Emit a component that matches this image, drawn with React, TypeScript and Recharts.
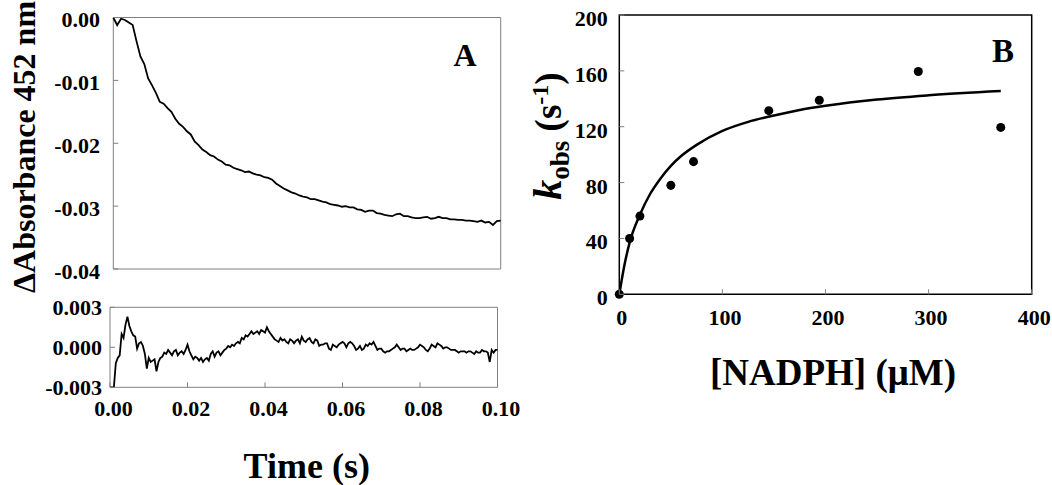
import React from 'react';
import {
  LineChart, ComposedChart, Line, Scatter, XAxis, YAxis, ReferenceArea, Label,
} from 'recharts';

// panel A (top): absorbance trace, one reading per ms
const TRACE_STEP = 0.001;
const traceValues = [
  0.0000, -0.0012, -0.0002, -0.0004, -0.0008, -0.0012, -0.0038, -0.0062, -0.0074, -0.0097,
  -0.0108, -0.0120, -0.0134, -0.0137, -0.0144, -0.0150, -0.0161, -0.0169, -0.0174, -0.0181,
  -0.0186, -0.0197, -0.0203, -0.0210, -0.0214, -0.0219, -0.0221, -0.0226, -0.0229, -0.0234,
  -0.0235, -0.0239, -0.0241, -0.0243, -0.0246, -0.0245, -0.0248, -0.0250, -0.0251, -0.0254,
  -0.0255, -0.0258, -0.0264, -0.0268, -0.0272, -0.0275, -0.0278, -0.0280, -0.0283, -0.0285,
  -0.0286, -0.0289, -0.0289, -0.0291, -0.0293, -0.0294, -0.0297, -0.0298, -0.0299, -0.0301,
  -0.0300, -0.0302, -0.0302, -0.0305, -0.0306, -0.0309, -0.0307, -0.0307, -0.0311, -0.0312,
  -0.0314, -0.0315, -0.0316, -0.0313, -0.0312, -0.0316, -0.0316, -0.0318, -0.0319, -0.0319,
  -0.0318, -0.0317, -0.0320, -0.0319, -0.0317, -0.0319, -0.0319, -0.0321, -0.0321, -0.0322,
  -0.0322, -0.0323, -0.0323, -0.0324, -0.0325, -0.0323, -0.0326, -0.0325, -0.0330, -0.0324,
  -0.0323,
];

// panel A (bottom): residuals, one reading per 0.5 ms
const RESID_STEP = 0.0005;
const residValues = [
  -0.0030, -0.0030, -0.0030, -0.0012, -0.0008, -0.0006, 0.0010, 0.0007, 0.0017, 0.0023,
  0.0016, 0.0012, 0.0009, 0.0008, -0.0001, 0.0003, 0.0004, 0.0001, -0.0005, -0.0016,
  -0.0008, -0.0011, -0.0010, -0.0009, -0.0018, -0.0011, -0.0008, -0.0007, -0.0004, -0.0005,
  -0.0002, -0.0004, -0.0006, -0.0003, -0.0002, -0.0006, -0.0004, -0.0003, -0.0005, -0.0002,
  0.0002, -0.0003, -0.0006, -0.0009, -0.0007, -0.0008, -0.0010, -0.0008, -0.0011, -0.0009,
  -0.0008, -0.0010, -0.0005, -0.0003, -0.0007, -0.0004, -0.0003, -0.0006, -0.0004, -0.0002,
  -0.0001, 0.0001, 0.0000, 0.0002, 0.0001, 0.0003, 0.0004, 0.0003, 0.0007, 0.0006,
  0.0009, 0.0008, 0.0010, 0.0012, 0.0010, 0.0011, 0.0012, 0.0010, 0.0013, 0.0012,
  0.0011, 0.0015, 0.0012, 0.0010, 0.0008, 0.0006, 0.0005, 0.0004, 0.0007, 0.0005,
  0.0006, 0.0004, 0.0003, 0.0006, 0.0005, 0.0003, 0.0005, 0.0006, 0.0003, 0.0008,
  0.0005, 0.0004, 0.0006, 0.0007, 0.0004, 0.0003, 0.0006, 0.0005, 0.0001, 0.0002,
  0.0002, 0.0003, 0.0003, -0.0001, -0.0002, 0.0002, 0.0001, 0.0000, 0.0002, 0.0003,
  0.0004, 0.0003, 0.0000, 0.0003, 0.0004, 0.0003, 0.0001, -0.0002, -0.0001, 0.0001,
  -0.0002, -0.0001, 0.0002, 0.0001, 0.0003, 0.0002, 0.0004, 0.0001, -0.0002, -0.0001,
  -0.0001, -0.0003, -0.0004, -0.0003, -0.0003, -0.0002, -0.0001, 0.0000, 0.0002, 0.0000,
  -0.0002, -0.0001, -0.0001, -0.0003, -0.0002, -0.0001, -0.0002, -0.0002, -0.0001, 0.0000,
  0.0002, 0.0001, 0.0000, -0.0002, -0.0003, -0.0001, 0.0002, 0.0001, 0.0000, 0.0003,
  0.0002, 0.0001, -0.0001, 0.0000, 0.0000, -0.0001, -0.0002, -0.0002, -0.0002, -0.0003,
  -0.0004, -0.0003, -0.0003, -0.0003, -0.0004, -0.0003, -0.0003, -0.0004, -0.0005, -0.0003,
  -0.0004, -0.0004, -0.0002, -0.0003, -0.0003, -0.0004, -0.0011, -0.0002, -0.0004, -0.0002,
  -0.0002,
];

const timeTicks = [0, 0.02, 0.04, 0.06, 0.08, 0.1];
const absTicks = [0, -0.01, -0.02, -0.03, -0.04];
const residTicks = [0.003, 0, -0.003];

// panel B: measured rates and the fitted hyperbola
const nadph = [0, 10, 20, 50, 72, 145, 194, 290, 370];
const kobs = [0, 40, 56, 78, 95, 131.5, 139, 159.5, 119.5];
const fitNadph = [0, 5, 10, 20, 30, 40, 50, 60, 75, 100, 125, 150, 175, 200, 250, 300, 370];
const fitKobs = [0, 21, 37, 57, 72, 83, 92, 99, 107, 117, 123.5, 128, 132, 135, 139.5, 142.5, 145.5];
const nadphTicks = [0, 100, 200, 300, 400];
const kobsTicks = [0, 40, 80, 120, 160, 200];

const traceData = traceValues.map((v, i) => ({ t: i * TRACE_STEP, v }));
const residData = residValues.map((v, i) => ({ t: i * RESID_STEP, v }));
const pointData = nadph.map((x, i) => ({ x, y: kobs[i] }));
const fitData = fitNadph.map((x, i) => ({ x, y: fitKobs[i] }));

const serif = '"Liberation Serif", "Times New Roman", Times, serif';
const txt = (size: number, extra: React.CSSProperties = {}): React.CSSProperties => ({
  fontFamily: serif, fontWeight: 700, fontSize: size, fill: '#000', ...extra,
});
const GREY = '#808080';
const TICK_FONT = 22;

// ticks point into the plot, labels sit outside
const leftTick = (gap: number, len: number, dy: number, fmt: (v: number) => string) => (p: any) => (
  <g>
    <line x1={p.x + gap} x2={p.x + gap + len} y1={p.y} y2={p.y} stroke={GREY} strokeWidth={1} />
    <text x={p.x} y={p.y + dy} textAnchor="end" style={txt(TICK_FONT)}>{fmt(p.payload.value)}</text>
  </g>
);

const bottomTick = (len: number, dx: number, dy: number, fmt?: (v: number) => string) => (p: any) => (
  <g>
    <line x1={p.x} x2={p.x} y1={p.y} y2={p.y - len} stroke={GREY} strokeWidth={1} />
    {fmt && (
      <text x={p.x + dx} y={p.y + dy} textAnchor="middle" style={txt(TICK_FONT)}>{fmt(p.payload.value)}</text>
    )}
  </g>
);

const absLabel = (p: any) => {
  const cx = p.viewBox.x + 35;
  const cy = 147;
  return (
    <text x={cx} y={cy} transform={`rotate(-90, ${cx}, ${cy})`} textAnchor="middle" style={txt(32)}>
      ΔAbsorbance 452 nm
    </text>
  );
};

const timeLabel = (p: any) => (
  <text x={p.viewBox.x + p.viewBox.width / 2 + 3} y={p.viewBox.y + 90.7} textAnchor="middle"
    style={txt(36)}>
    Time (s)
  </text>
);

const nadphLabel = (p: any) => (
  <text x={p.viewBox.x + p.viewBox.width / 2 + 7.5} y={p.viewBox.y + 90.7} textAnchor="middle"
    style={txt(37)}>
    [NADPH] (μM)
  </text>
);

const kobsLabel = (p: any) => {
  const cx = p.viewBox.x + 31;
  const cy = 136;
  return (
    <text x={cx} y={cy} transform={`rotate(-90, ${cx}, ${cy})`} textAnchor="middle" style={txt(37)}>
      <tspan style={{ fontStyle: 'italic', fontSize: 40 }}>k</tspan>
      <tspan style={{ fontSize: 27 }} dy={8}>obs</tspan>
      <tspan dy={-8}> (s</tspan>
      <tspan style={{ fontSize: 24 }} dy={-13}>-1</tspan>
      <tspan dy={13}>)</tspan>
    </text>
  );
};

const panelLetter = (letter: string, right: number, down: number, size: number) => (p: any) => (
  <text x={p.viewBox.x + p.viewBox.width - right} y={p.viewBox.y + down} textAnchor="middle"
    style={txt(size)}>
    {letter}
  </text>
);

export default function App() {
  return (
    <div style={{ position: 'absolute', left: 0, top: 0, width: 1052, height: 485, background: '#fff' }}>
      <div style={{ position: 'absolute', left: 0, top: 0 }}>
        <LineChart width={520} height={300} data={traceData}
          margin={{ top: 17.5, right: 19.3, bottom: 31, left: 0 }}>
          <XAxis type="number" dataKey="t" domain={[0, 0.1]} ticks={timeTicks} interval={0}
            height={0} tickSize={0} tickMargin={0} axisLine={false} tickLine={false}
            tick={bottomTick(5, 0, 0)} />
          <YAxis type="number" domain={[-0.04, 0]} ticks={absTicks} interval={0} width={113.3}
            tickSize={0} tickMargin={13.3} axisLine={false} tickLine={false} allowDataOverflow
            tick={leftTick(13.3, 5, 9.5, (v) => v.toFixed(2))}
            label={<Label content={absLabel} />} />
          <ReferenceArea x1={0} x2={0.1} y1={-0.04} y2={0} fill="none" stroke={GREY} strokeWidth={1}
            label={<Label content={panelLetter('A', 35.7, 48, 32)} />} />
          <Line type="linear" dataKey="v" stroke="#000" strokeWidth={1.8} dot={false}
            isAnimationActive={false} />
        </LineChart>
      </div>

      <div style={{ position: 'absolute', left: 0, top: 290 }}>
        <LineChart width={520} height={195} data={residData}
          margin={{ top: 17.3, right: 22.5, bottom: 0, left: 0 }}>
          <XAxis type="number" dataKey="t" domain={[0, 0.1]} ticks={timeTicks} interval={0}
            height={97.7} tickSize={0} tickMargin={0} axisLine={false} tickLine={false}
            tick={bottomTick(5, 3.5, 29, (v) => v.toFixed(2))}
            label={<Label content={timeLabel} />} />
          <YAxis type="number" domain={[-0.003, 0.003]} ticks={residTicks} interval={0} width={110}
            tickSize={0} tickMargin={8} axisLine={false} tickLine={false} allowDataOverflow
            tick={leftTick(8, 5, 7.5, (v) => v.toFixed(3))} />
          <ReferenceArea x1={0} x2={0.1} y1={-0.003} y2={0.003} fill="none" stroke={GREY} strokeWidth={1} />
          <Line type="linear" dataKey="v" stroke="#000" strokeWidth={1.8} dot={false}
            isAnimationActive={false} />
        </LineChart>
      </div>

      <div style={{ position: 'absolute', left: 530, top: 0 }}>
        <ComposedChart width={522} height={400} margin={{ top: 15, right: 20.3, bottom: 0, left: 0 }}>
          <XAxis type="number" dataKey="x" domain={[0, 400]} ticks={nadphTicks} interval={0}
            height={105.7} tickSize={0} tickMargin={0} axisLine={false} tickLine={false}
            tick={bottomTick(5, 2.5, 31, (v) => String(v))}
            label={<Label content={nadphLabel} />} />
          <YAxis type="number" dataKey="y" domain={[0, 200]} ticks={kobsTicks} interval={0} width={89.3}
            tickSize={0} tickMargin={11.6} axisLine={false} tickLine={false}
            tick={leftTick(11.6, 5, 11, (v) => String(v))}
            label={<Label content={kobsLabel} />} />
          <ReferenceArea x1={0} x2={400} y1={0} y2={200} fill="none" stroke="#000" strokeWidth={1.5}
            label={<Label content={panelLetter('B', 28.7, 46.7, 33)} />} />
          <Line data={fitData} type="monotone" dataKey="y" stroke="#000" strokeWidth={2.5} dot={false}
            isAnimationActive={false} />
          <Scatter data={pointData} dataKey="y" fill="#000" isAnimationActive={false} />
        </ComposedChart>
      </div>
    </div>
  );
}
